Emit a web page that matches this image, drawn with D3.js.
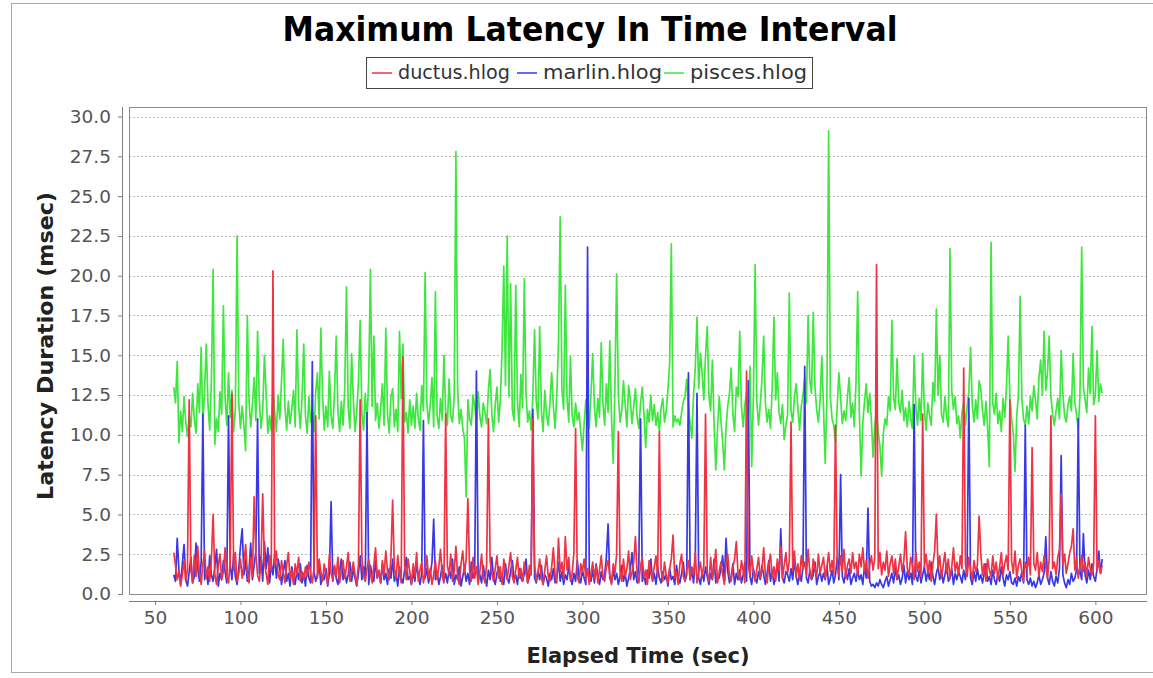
<!DOCTYPE html>
<html>
<head>
<meta charset="utf-8">
<script src="https://d3js.org/d3.v7.min.js"></script>
<style>
    body { margin: 0; background: #fff; }
    text { font-family: "DejaVu Sans", sans-serif; }
</style>
</head>
<body>
<div id="chart"></div>
<script>
// series names + colours (legend order)
let seriesNames = ["ductus.hlog", "marlin.hlog", "pisces.hlog"]
let seriesColors = ["#ee3344", "#3838e6", "#3fe63f"]

// one sample per second, first sample at t = 61 sec
let startSec = 61

let ductus = [
    2.6, 1.8, 0.9, 1.4, 0.5, 1.2, 2.1, 0.8, 1.6, 12.2,
    1.5, 0.7, 2.4, 1.1, 3.0, 1.3, 0.6, 1.9, 2.7, 1.0,
    1.7, 0.8, 2.2, 5.0, 1.2, 0.6, 1.8, 2.5, 0.9, 1.4,
    2.9, 1.1, 0.7, 2.0, 12.6, 1.5, 2.6, 0.8, 1.3, 2.2,
    1.0, 1.8, 3.1, 1.4, 0.7, 2.3, 1.1, 6.1, 2.5, 1.2,
    0.8, 1.9, 6.3, 2.0, 1.3, 0.6, 2.4, 1.5, 20.3, 1.8,
    2.7, 1.2, 0.9, 2.1, 1.4, 0.7, 1.8, 2.6, 1.0, 1.5,
    0.6, 1.9, 1.2, 2.3, 0.8, 1.4, 0.9, 1.7, 1.1, 2.0,
    1.3, 0.7, 1.6, 11.2, 1.0, 2.2, 1.4, 0.8, 1.9, 1.2,
    0.6, 2.5, 1.3, 0.9, 1.8, 1.1, 2.3, 0.7, 1.5, 2.1,
    1.0, 1.7, 2.6, 0.8, 1.4, 2.0, 1.2, 0.6, 1.9, 12.2,
    2.4, 1.1, 0.8, 1.6, 2.2, 1.3, 0.7, 1.8, 2.9, 1.0,
    1.5, 0.7, 2.1, 1.2, 2.7, 1.4, 0.9, 2.3, 5.9, 1.6,
    1.0, 2.4, 1.3, 0.7, 14.9, 1.8, 0.9, 2.2, 1.4, 0.6,
    1.9, 1.1, 2.6, 0.8, 1.5, 2.0, 0.7, 1.3, 2.4, 1.0,
    1.6, 0.6, 1.2, 2.1, 0.9, 1.7, 2.8, 1.1, 0.7, 11.3,
    1.8, 1.2, 2.5, 0.8, 1.4, 3.0, 1.1, 0.6, 1.9, 2.7,
    1.3, 2.2, 6.0, 1.5, 0.8, 2.3, 1.0, 1.7, 0.6, 1.4,
    2.5, 1.1, 0.7, 1.9, 11.0, 2.1, 1.3, 0.8, 1.6, 2.4,
    1.0, 1.7, 0.6, 2.2, 1.4, 0.9, 1.8, 2.6, 1.1, 0.7,
    1.5, 2.3, 1.0, 1.6, 0.8, 2.0, 1.3, 0.7, 1.8, 1.2,
    11.0, 1.9, 0.8, 1.4, 2.2, 1.0, 0.6, 1.5, 2.4, 1.1,
    0.8, 1.7, 2.9, 1.2, 0.7, 3.5, 1.4, 2.0, 0.9, 3.6,
    1.5, 2.3, 0.8, 1.3, 2.6, 10.4, 1.1, 0.7, 1.9, 1.4,
    2.2, 0.9, 1.6, 0.6, 1.3, 2.0, 1.0, 1.8, 0.7, 1.5,
    2.4, 1.1, 0.8, 1.7, 2.1, 1.2, 0.6, 1.9, 1.3, 2.5,
    10.2, 1.4, 0.8, 2.2, 1.1, 1.6, 2.7, 0.9, 1.4, 2.0,
    3.6, 1.2, 0.7, 1.8, 2.3, 1.0, 1.5, 0.6, 2.1, 1.3,
    0.9, 1.7, 2.4, 1.1, 10.2, 1.5, 0.8, 2.0, 1.2, 0.7,
    1.6, 2.2, 3.7, 1.0, 1.4, 0.6, 1.9, 2.5, 1.1, 0.8,
    1.5, 2.1, 0.9, 1.7, 1.2, 2.6, 0.7, 1.4, 2.0, 1.1,
    1.8, 11.3, 1.3, 0.8, 2.3, 1.0, 1.6, 2.8, 0.7, 1.4,
    2.0, 1.2, 0.6, 1.9, 2.5, 1.1, 0.8, 1.7, 2.2, 3.3,
    1.3, 0.9, 2.1, 1.5, 0.7, 14.0, 1.8, 1.1, 2.4, 1.4,
    0.8, 1.6, 2.3, 1.0, 1.5, 2.9, 1.2, 0.7, 1.9, 2.5,
    1.1, 1.7, 0.8, 2.2, 1.4, 3.0, 1.0, 1.8, 2.6, 1.3,
    2.1, 10.8, 1.5, 2.7, 1.1, 1.9, 0.9, 2.4, 1.6, 2.0,
    1.2, 2.8, 1.4, 0.9, 2.2, 1.6, 1.1, 2.5, 1.3, 1.8,
    2.3, 1.0, 1.7, 2.6, 1.4, 2.1, 1.2, 10.6, 1.9, 1.1,
    2.4, 1.5, 2.8, 1.0, 1.8, 2.2, 1.3, 2.6, 1.6, 2.0,
    1.2, 2.5, 1.7, 2.9, 1.4, 2.1, 1.0, 1.8, 2.4, 1.5,
    2.3, 20.7, 1.6, 2.6, 1.2, 2.0, 1.5, 2.7, 1.1, 1.9,
    2.4, 1.3, 2.2, 1.0, 1.7, 2.5, 1.4, 2.1, 3.9, 1.6,
    1.2, 2.3, 1.8, 0.9, 2.6, 1.4, 2.0, 1.1, 11.3, 1.7,
    2.5, 1.3, 2.1, 0.8, 1.9, 2.7, 5.0, 1.6, 2.4, 1.0,
    1.8, 2.6, 1.3, 2.2, 1.0, 1.7, 2.9, 1.4, 2.0, 1.2,
    2.4, 1.6, 14.2, 1.9, 1.1, 2.3, 1.5, 0.9, 2.1, 1.4,
    1.8, 4.9, 2.5, 1.2, 1.9, 0.8, 2.2, 1.5, 1.1, 2.4,
    1.3, 2.0, 0.9, 1.7, 2.6, 1.2, 1.9, 2.4, 1.5, 12.2,
    2.1, 1.3, 2.7, 1.0, 1.8, 2.2, 1.4, 0.8, 2.0, 1.6,
    2.3, 1.2, 9.2, 1.9, 1.5, 2.6, 1.1, 2.0, 1.4, 2.4,
    1.7, 1.0, 2.2, 11.2, 1.6, 2.0, 1.2, 2.3, 2.8, 6.3,
    1.8, 2.5, 1.3, 1.9, 2.6, 3.0, 4.1, 1.5, 2.2, 1.0,
    1.7, 2.4, 1.4, 2.0, 1.1, 2.3, 1.6, 1.2, 1.9, 11.2,
    1.4, 2.1, 1.3, 1.8
]

let marlin = [
    1.2, 0.8, 3.5, 1.5, 0.6, 1.9, 3.1, 0.9, 0.5, 1.4,
    2.3, 0.7, 1.1, 3.2, 1.6, 0.8, 2.0, 11.3, 0.9, 1.5,
    0.6, 2.4, 1.2, 0.8, 1.7, 2.8, 0.5, 1.3, 0.9, 2.1,
    1.4, 0.7, 11.2, 1.8, 0.9, 2.5, 1.1, 0.6, 1.6, 3.0,
    4.1, 1.2, 2.2, 0.8, 1.5, 3.2, 0.9, 1.8, 2.7, 11.0,
    1.3, 2.4, 0.8, 3.3, 1.6, 2.9, 0.7, 1.9, 1.2, 2.5,
    1.0, 2.2, 1.6, 0.6, 1.4, 2.1, 0.8, 1.3, 0.5, 1.7,
    1.1, 0.6, 1.5, 0.9, 1.9, 0.7, 1.3, 0.5, 1.8, 1.0,
    0.7, 14.6, 1.4, 0.8, 1.2, 2.0, 0.6, 1.1, 0.9, 1.6,
    0.5, 1.3, 5.8, 0.8, 1.7, 1.0, 0.6, 1.4, 2.2, 0.9,
    1.5, 0.7, 1.2, 2.0, 0.8, 1.6, 1.0, 0.5, 1.3, 2.4,
    0.9, 1.7, 1.1, 11.4, 0.6, 1.8, 1.2, 0.8, 2.1, 1.0,
    1.4, 0.7, 1.9, 0.9, 1.3, 0.6, 1.6, 1.0, 2.2, 0.8,
    1.2, 0.5, 1.7, 1.0, 0.7, 1.5, 2.3, 0.9, 1.1, 0.6,
    1.4, 0.8, 1.9, 1.1, 0.6, 1.3, 10.9, 1.0, 1.6, 0.7,
    1.2, 2.0, 4.7, 0.9, 1.4, 0.6, 1.1, 1.8, 0.8, 1.3,
    0.7, 1.5, 1.0, 2.2, 0.6, 1.2, 0.9, 1.7, 0.5, 1.1,
    1.6, 0.8, 1.3, 0.6, 2.0, 1.0, 1.4, 14.0, 0.9, 1.2,
    0.7, 1.8, 1.1, 0.5, 1.5, 0.9, 2.3, 1.0, 0.6, 1.3,
    1.7, 0.8, 1.2, 0.6, 1.9, 1.0, 0.7, 1.4, 2.1, 0.9,
    1.2, 0.6, 1.6, 1.0, 0.8, 1.3, 2.2, 0.7, 1.1, 1.5,
    11.6, 1.0, 0.7, 1.4, 0.9, 1.8, 0.6, 1.2, 1.0, 0.5,
    1.3, 0.9, 1.6, 0.7, 1.1, 2.0, 0.8, 1.4, 0.6, 1.2,
    0.9, 1.7, 1.0, 0.6, 1.3, 0.8, 2.1, 1.1, 0.7, 1.5,
    1.0, 0.6, 21.8, 1.2, 0.8, 1.5, 0.7, 1.9, 1.1, 0.6,
    1.4, 0.9, 1.2, 2.3, 4.4, 1.0, 0.7, 1.5, 0.9, 1.3,
    0.6, 1.1, 1.8, 0.8, 1.3, 0.5, 1.0, 1.6, 2.6, 0.9,
    1.4, 0.7, 1.9, 11.0, 0.8, 1.2, 0.6, 1.5, 1.0, 2.2,
    0.8, 1.3, 0.6, 1.7, 1.0, 0.7, 1.4, 0.9, 1.2, 0.5,
    1.6, 0.9, 1.1, 0.6, 1.8, 1.0, 0.7, 1.3, 2.0, 0.8,
    1.2, 13.9, 0.9, 1.5, 0.7, 2.1, 12.6, 1.0, 0.6, 1.4,
    0.8, 1.7, 1.1, 0.6, 1.3, 0.9, 2.2, 0.7, 1.2, 1.0,
    1.6, 2.4, 0.8, 3.5, 1.4, 0.7, 1.1, 1.9, 0.6, 1.3,
    0.9, 1.5, 0.7, 1.2, 2.0, 0.8, 13.4, 1.1, 0.6, 1.6,
    1.0, 0.7, 1.4, 0.9, 1.8, 1.2, 0.6, 1.3, 2.1, 0.8,
    1.5, 0.6, 1.1, 1.9, 0.8, 4.1, 1.0, 0.7, 1.4, 1.2,
    0.8, 1.6, 0.9, 2.2, 1.1, 0.6, 1.3, 0.8, 1.7, 14.3,
    1.0, 0.7, 1.5, 0.9, 1.2, 2.0, 0.6, 1.1, 1.4, 0.8,
    1.3, 0.9, 1.8, 0.6, 1.0, 1.5, 0.7, 1.2, 2.3, 0.9,
    7.5, 1.1, 0.7, 1.4, 0.9, 1.6, 0.6, 1.0, 1.3, 0.8,
    1.5, 0.9, 1.2, 0.6, 1.8, 1.0, 5.4, 0.8, 0.5, 0.6,
    0.4, 0.7, 0.5, 0.9, 0.6, 0.4, 0.8, 1.1, 0.5, 0.9,
    1.3, 0.7, 1.6, 0.9, 1.2, 0.6, 1.0, 1.8, 0.7, 1.4,
    0.9, 1.3, 0.6, 11.9, 1.1, 0.8, 1.5, 0.7, 1.2, 1.7,
    0.8, 1.4, 0.9, 2.0, 1.1, 0.6, 1.3, 1.7, 0.9, 1.5,
    0.7, 1.2, 1.9, 0.8, 1.0, 1.6, 0.6, 1.3, 0.9, 1.4,
    1.1, 0.7, 1.5, 0.9, 1.8, 12.3, 1.0, 0.6, 1.4, 0.8,
    1.6, 0.9, 1.2, 0.7, 1.3, 1.9, 0.8, 1.1, 0.6, 1.5,
    0.9, 0.6, 1.3, 0.8, 1.7, 1.0, 0.5, 1.2, 0.9, 1.4,
    0.7, 0.6, 1.0, 0.5, 1.1, 0.8, 1.4, 0.7, 10.6, 0.9,
    0.6, 1.0, 0.5, 0.8, 0.4, 0.7, 1.2, 0.6, 0.9, 1.3,
    3.6, 1.0, 0.6, 1.4, 0.8, 0.5, 1.1, 0.7, 1.6, 8.7,
    1.2, 0.7, 0.4, 0.9, 0.6, 1.3, 0.8, 1.0, 1.5, 11.0,
    1.4, 0.9, 3.8, 1.2, 0.7, 1.5, 0.9, 1.9, 1.1, 0.8,
    1.6, 2.7, 1.3, 2.2
]

let pisces = [
    13.0, 12.0, 14.6, 9.5, 11.5, 10.2, 12.4, 10.8, 9.9, 11.2,
    10.5, 12.6, 11.0, 10.1, 13.2, 11.4, 15.5, 10.6, 12.8, 15.7,
    11.9, 10.3, 13.5, 20.4, 9.4, 11.0, 10.2, 12.7, 11.3, 18.1,
    12.3, 10.6, 13.9, 11.1, 12.8, 10.2, 11.6, 22.5, 12.0, 10.4,
    11.8, 10.6, 9.0, 17.5, 12.1, 10.5, 11.9, 13.6, 10.9, 16.5,
    12.2, 10.4, 11.5, 15.0, 12.6, 10.1, 11.2, 10.3, 12.9, 11.4,
    10.2, 12.5, 11.0, 13.4, 16.0, 11.8, 10.3, 12.1, 10.7, 11.6,
    12.8, 10.5, 16.6, 11.9, 10.4, 12.3, 15.7, 11.2, 10.1, 12.4,
    10.8, 11.5, 10.2, 12.7, 13.9, 11.0, 16.7, 12.5, 10.3, 11.8,
    10.5, 14.0, 11.2, 10.4, 12.6, 16.2, 11.5, 10.2, 12.1, 10.6,
    13.0, 19.3, 11.7, 10.4, 15.1, 12.2, 10.2, 11.5, 13.3, 17.2,
    11.4, 10.3, 12.6, 10.8, 13.5, 20.4, 11.8, 16.2, 10.9, 12.0,
    10.4, 11.7, 13.2, 10.6, 16.7, 11.3, 10.1, 12.4, 12.9, 10.5,
    11.6, 10.2, 16.5, 12.3, 15.7, 10.8, 11.4, 10.1, 12.2, 10.6,
    11.8, 10.4, 12.6, 11.0, 10.3, 13.1, 11.5, 20.2, 12.0, 10.7,
    11.9, 13.6, 10.5, 19.0, 11.2, 10.4, 12.3, 10.9, 15.0, 11.5,
    10.6, 13.5, 11.2, 10.8, 12.4, 27.8, 12.9, 10.7, 11.6, 10.4,
    9.8, 6.1, 12.2, 11.0, 10.6, 12.5, 11.8, 10.9, 12.7, 11.2,
    10.5, 12.0, 11.4, 10.7, 12.8, 14.1, 11.3, 10.2, 11.9, 13.0,
    10.8, 12.2, 15.4, 20.6, 13.1, 22.5, 12.4, 19.5, 11.6, 10.9,
    19.4, 12.1, 10.5, 13.8, 11.7, 19.8, 12.6, 10.8, 11.5, 10.3,
    12.4, 16.6, 12.1, 11.0, 16.8, 11.5, 10.2, 12.8, 11.3, 10.6,
    12.0, 13.9, 11.8, 10.4, 12.5, 15.8, 23.7, 12.9, 11.6, 19.4,
    12.3, 10.8, 14.9, 11.2, 10.5, 12.0, 10.9, 11.4, 10.2, 9.0,
    10.7, 12.2, 11.0, 10.4, 12.6, 15.1, 11.8, 10.5, 12.3, 11.1,
    15.8, 12.0, 10.6, 13.2, 11.4, 15.9, 11.1, 8.2, 13.0, 20.1,
    12.6, 10.8, 11.5, 13.4, 11.9, 10.5, 13.1, 12.2, 10.7, 11.8,
    12.9, 11.1, 10.4, 12.0, 13.0, 11.3, 9.2, 11.6, 10.8, 12.5,
    10.9, 11.9, 10.6, 11.4, 10.2, 11.7, 12.3, 10.8, 11.5, 12.8,
    14.5, 22.0, 10.5, 11.2, 10.8, 11.0, 10.6, 11.4, 12.1, 12.4,
    13.5, 11.8, 10.7, 9.8, 12.6, 14.2, 17.4, 12.9, 15.1, 13.9,
    12.2, 15.0, 16.8, 12.4, 11.5, 14.7, 10.6, 7.8, 10.4, 12.4,
    10.9, 9.6, 7.8, 10.5, 11.8, 12.6, 14.2, 11.3, 10.2, 13.0,
    12.4, 16.5, 11.8, 10.5, 11.9, 12.7, 10.9, 14.3, 8.0, 12.5,
    20.7, 12.1, 10.6, 11.9, 13.5, 16.2, 12.0, 10.8, 11.6, 10.4,
    13.0, 17.4, 12.2, 13.9, 11.4, 10.7, 11.9, 9.7, 10.6, 11.3,
    18.9, 11.5, 10.8, 12.4, 13.2, 11.7, 10.3, 11.8, 12.5, 13.6,
    12.0, 17.5, 13.4, 12.6, 17.7, 13.0, 11.6, 10.8, 12.2, 14.9,
    11.7, 8.2, 12.6, 29.1, 12.4, 11.0, 10.6, 9.5, 11.8, 13.9,
    12.3, 10.7, 11.5, 10.9, 12.4, 13.6, 11.1, 12.0, 10.5, 13.3,
    19.0, 11.2, 7.4, 10.8, 12.1, 13.2, 11.4, 12.6, 10.9, 8.6,
    10.5, 11.6, 10.2, 9.3, 7.4, 10.1, 11.0, 10.6, 12.4, 11.5,
    17.2, 12.3, 11.6, 14.8, 12.0, 11.4, 12.8, 10.9, 11.7, 10.5,
    12.1, 11.0, 10.4, 15.0, 11.8, 10.6, 12.3, 10.9, 15.1, 11.5,
    10.3, 12.0, 11.2, 10.6, 13.3, 12.1, 17.9, 12.5, 15.0, 11.3,
    10.8, 12.4, 11.1, 10.5, 21.7, 12.8, 11.6, 12.4, 10.7, 11.2,
    9.8, 11.4, 12.0, 10.6, 11.8, 12.7, 15.5, 11.9, 10.8, 12.2,
    11.0, 13.4, 12.9, 11.5, 10.6, 12.1, 10.4, 8.0, 22.1, 12.0,
    11.3, 12.6, 10.7, 11.5, 10.2, 12.3, 11.1, 13.0, 16.2, 12.4,
    11.0, 10.1, 7.7, 11.2, 12.5, 18.7, 12.3, 11.0, 10.6, 11.8,
    10.7, 12.4, 11.5, 13.1, 12.2, 11.0, 13.6, 14.7, 12.5, 16.5,
    12.8, 13.9, 16.2, 12.4, 11.3, 10.6, 11.5, 12.3, 11.0, 15.3,
    12.6, 11.2, 10.8, 11.9, 12.4, 11.5, 15.1, 12.0, 11.3, 10.3,
    12.5, 21.8, 13.0, 12.2, 11.4, 14.2, 12.6, 16.8, 11.9, 12.5,
    15.3, 12.1, 13.2, 12.6
]

// tick values
let xTicks = [50, 100, 150, 200, 250, 300, 350, 400, 450, 500, 550, 600]
let yTicks = [0, 2.5, 5, 7.5, 10, 12.5, 15, 17.5, 20, 22.5, 25, 27.5, 30]

let W = 1153,
    H = 678

// plot area (pixels)
let plot = {
    left: 129,
    right: 1147,
    top: 107,
    bottom: 595
}

let svg = d3.select("#chart")
    .append("svg")
    .attr("width", W)
    .attr("height", H)

// outer chart border
svg.append("rect")
    .attr("x", 11.5)
    .attr("y", 3.5)
    .attr("width", 1160)
    .attr("height", 669)
    .attr("fill", "none")
    .attr("stroke", "#a8a8a8")

let x = d3.scaleLinear()
    .domain([34.8, 630.2])
    .range([plot.left, plot.right])

let y = d3.scaleLinear()
    .domain([0, 30.6])
    .range([plot.bottom - 1, plot.top])

// horizontal grid lines (dashed)
svg.append("g")
    .selectAll("line")
    .data(yTicks)
    .enter()
    .append("line")
    .attr("x1", plot.left)
    .attr("x2", plot.right)
    .attr("y1", d => Math.round(y(d)) + 0.5)
    .attr("y2", d => Math.round(y(d)) + 0.5)
    .attr("stroke", "#bdbdbd")
    .attr("stroke-width", 1)
    .attr("stroke-dasharray", "2,2")

// the lines: green first, red last (on top)
let series = [
    { name: seriesNames[2], color: seriesColors[2], values: pisces },
    { name: seriesNames[1], color: seriesColors[1], values: marlin },
    { name: seriesNames[0], color: seriesColors[0], values: ductus }
]

let line = d3.line()
    .x((d, i) => x(startSec + i))
    .y(d => y(d))

svg.append("clipPath")
    .attr("id", "plotClip")
    .append("rect")
    .attr("x", plot.left)
    .attr("y", plot.top)
    .attr("width", plot.right - plot.left)
    .attr("height", plot.bottom - plot.top)

svg.append("g")
    .attr("clip-path", "url(#plotClip)")
    .selectAll("path")
    .data(series)
    .enter()
    .append("path")
    .attr("d", d => line(d.values))
    .attr("fill", "none")
    .attr("stroke", d => d.color)
    .attr("stroke-width", 1.7)
    .attr("stroke-linejoin", "round")

// plot frame
svg.append("rect")
    .attr("x", plot.left + 0.5)
    .attr("y", plot.top + 0.5)
    .attr("width", plot.right - plot.left - 1)
    .attr("height", plot.bottom - plot.top - 1)
    .attr("fill", "none")
    .attr("stroke", "#8a8a8a")

// y axis (offset to the left of the plot)
let yAxis = svg.append("g")
    .attr("transform", "translate(122,0)")
    .call(d3.axisLeft(y).tickValues(yTicks).tickFormat(d3.format(".1f")).tickSize(4).tickPadding(7))
yAxis.select(".domain")
    .attr("d", "M0.5," + plot.top + "V" + plot.bottom)
    .attr("stroke", "#808080")

// x axis (offset below the plot)
let xAxis = svg.append("g")
    .attr("transform", "translate(0,601)")
    .call(d3.axisBottom(x).tickValues(xTicks).tickSize(4).tickPadding(6))
xAxis.select(".domain")
    .attr("d", "M" + plot.left + ",0.5H" + plot.right)
    .attr("stroke", "#808080")

svg.selectAll(".tick line").attr("stroke", "#808080")
svg.selectAll(".tick text")
    .style("font-family", "DejaVu Sans, sans-serif")
    .style("font-size", "18.5px")
    .attr("fill", "#555")

// title
svg.append("text")
    .attr("x", 590)
    .attr("y", 41)
    .attr("text-anchor", "middle")
    .attr("textLength", 615)
    .attr("lengthAdjust", "spacingAndGlyphs")
    .style("font-size", "33px")
    .style("font-weight", "bold")
    .attr("fill", "#000")
    .text("Maximum Latency In Time Interval")

// axis labels
svg.append("text")
    .attr("x", (plot.left + plot.right) / 2)
    .attr("y", 663)
    .attr("text-anchor", "middle")
    .style("font-size", "21px")
    .style("font-weight", "bold")
    .attr("fill", "#222")
    .text("Elapsed Time (sec)")

svg.append("text")
    .attr("transform", "translate(53,346) rotate(-90)")
    .attr("text-anchor", "middle")
    .attr("textLength", 308)
    .attr("lengthAdjust", "spacingAndGlyphs")
    .style("font-size", "22px")
    .style("font-weight", "bold")
    .attr("fill", "#222")
    .text("Latency Duration (msec)")

// legend: sample line + name per series
let legendX = [372, 517, 664]
let legendTextW = [112, 119, 117]
let legend = svg.append("g")
seriesNames.forEach((name, i) => {
    legend.append("line")
        .attr("x1", legendX[i])
        .attr("x2", legendX[i] + 20)
        .attr("y1", 73)
        .attr("y2", 73)
        .attr("stroke", seriesColors[i])
        .attr("stroke-width", 1.5)
    legend.append("text")
        .attr("x", legendX[i] + 26)
        .attr("y", 79)
        .attr("textLength", legendTextW[i])
        .attr("lengthAdjust", "spacingAndGlyphs")
        .style("font-size", "19.5px")
        .attr("fill", "#333")
        .text(name)
})
svg.append("rect")
    .attr("x", 366.5)
    .attr("y", 57.5)
    .attr("width", 446)
    .attr("height", 31)
    .attr("fill", "none")
    .attr("stroke", "#444")
</script>
</body>
</html>
